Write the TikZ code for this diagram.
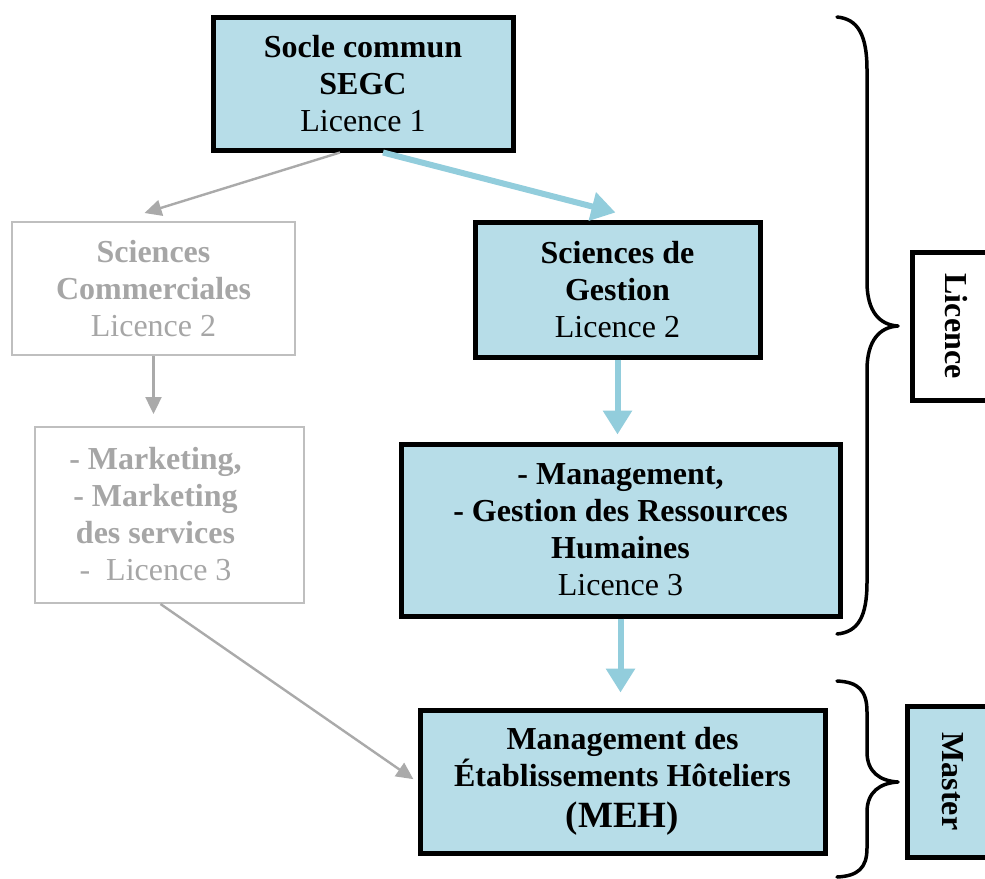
\documentclass[tikz,border=0pt]{standalone}
\usepackage{fontspec}
\setmainfont{Liberation Serif}
\usetikzlibrary{arrows.meta,calc}
\definecolor{boxblue}{RGB}{183,221,232}
\definecolor{arrblue}{RGB}{146,205,220}
\definecolor{gtext}{RGB}{166,166,166}
\definecolor{gline}{RGB}{191,191,191}
\definecolor{garrow}{RGB}{170,170,170}
\tikzset{
  mainbox/.style={draw=black, line width=2.5pt, fill=boxblue, align=center, inner sep=0pt,
    font=\fontsize{16}{18.5}\selectfont},
  greybox/.style={draw=gline, line width=1pt, fill=white, align=center, inner sep=0pt, text=gtext,
    font=\fontsize{16}{18.5}\selectfont},
  labelbox/.style={draw=black, line width=2.5pt, inner sep=0pt, rotate=-90,
    font=\fontsize{16}{18.5}\selectfont\bfseries},
  bluearrow/.style={draw=arrblue, line width=3pt, -{Triangle[length=12pt,width=14pt]}},
  greyarrow/.style={draw=garrow, line width=1.2pt, -{Triangle[length=8.5pt,width=8pt]}},
  brace/.style={draw=black, line width=1.75pt, line cap=round, line join=round}
}
\begin{document}
\begin{tikzpicture}[x=0.5pt,y=-0.5pt]
\useasboundingbox (0,0) rectangle (985,878);
\fill[white] (0,0) rectangle (985,878);

\node[mainbox, minimum width=150pt, minimum height=66.5pt] (socle) at (363,83.5)
  {\textbf{Socle commun}\\\textbf{SEGC}\\Licence 1};
\node[greybox, minimum width=141.5pt, minimum height=66.5pt] (sc) at (153.5,288.5)
  {\textbf{Sciences}\\\textbf{Commerciales}\\Licence 2};
\node[mainbox, minimum width=142.5pt, minimum height=67.5pt] (sg) at (617.5,289.5)
  {\textbf{Sciences de}\\\textbf{Gestion}\\Licence 2};
\node[greybox, minimum width=134.5pt, minimum height=88pt] (mk) at (169.5,515)
  {\hspace*{-14pt}\raisebox{-1.5pt}[\height][\depth]{\begin{tabular}{@{}c@{}}\textbf{- Marketing,}\\\textbf{- Marketing}\\\textbf{des services}\\-\ \ Licence 3\end{tabular}}};
\node[mainbox, minimum width=219.5pt, minimum height=86pt] (mg) at (620.5,530)
  {\textbf{- Management,}\\\textbf{- Gestion des Ressources}\\\textbf{Humaines}\\Licence 3};
\node[mainbox, minimum width=202.5pt, minimum height=71.5pt] (meh) at (622.5,781.5)
  {\textbf{Management des}\\\textbf{Établissements Hôteliers}\\[2pt]{\fontsize{18.5}{21}\selectfont\textbf{(MEH)}}};

\node[labelbox, fill=white, minimum width=74pt, minimum height=44pt] (lic) at (956,326) {Licence};
\node[labelbox, fill=boxblue, minimum width=75.5pt, minimum height=46pt] (mas) at (953,781.5) {Master};

% arrows
\draw[greyarrow] ($(socle.south)+(-23,0)$) -- ($(sc.north)+(-9,-8)$);
\draw[bluearrow] ($(socle.south)+(20,0)$) -- ($(sg.north)+(-2,-7)$);
\draw[greyarrow, shorten >=6pt] (sc.south) -- (sc.south |- mk.north);
\draw[bluearrow, shorten >=3.5pt] (sg.south) -- (sg.south |- mg.north);
\draw[bluearrow, shorten >=7.5pt] (mg.south) -- (mg.south |- meh.north);
\draw[greyarrow, shorten >=2.5pt] ($(mk.south)+(-9,0)$) -- ($(meh.west)+(0,0.5)$);

% braces
\draw[brace] (837,17) .. controls (858,19) and (867,35) .. (867,70) -- (867,282)
  .. controls (867,312) and (880,325) .. (898,326)
  .. controls (880,327) and (867,340) .. (867,370) -- (867,582)
  .. controls (867,617) and (858,632) .. (837,634);
\draw[brace] (837,681) .. controls (858,682) and (867,690) .. (867,712) -- (867,752)
  .. controls (867,772) and (880,781) .. (898,782)
  .. controls (880,783) and (867,792) .. (867,812) -- (867,848)
  .. controls (867,868) and (858,876) .. (837,877);
\end{tikzpicture}
\end{document}
